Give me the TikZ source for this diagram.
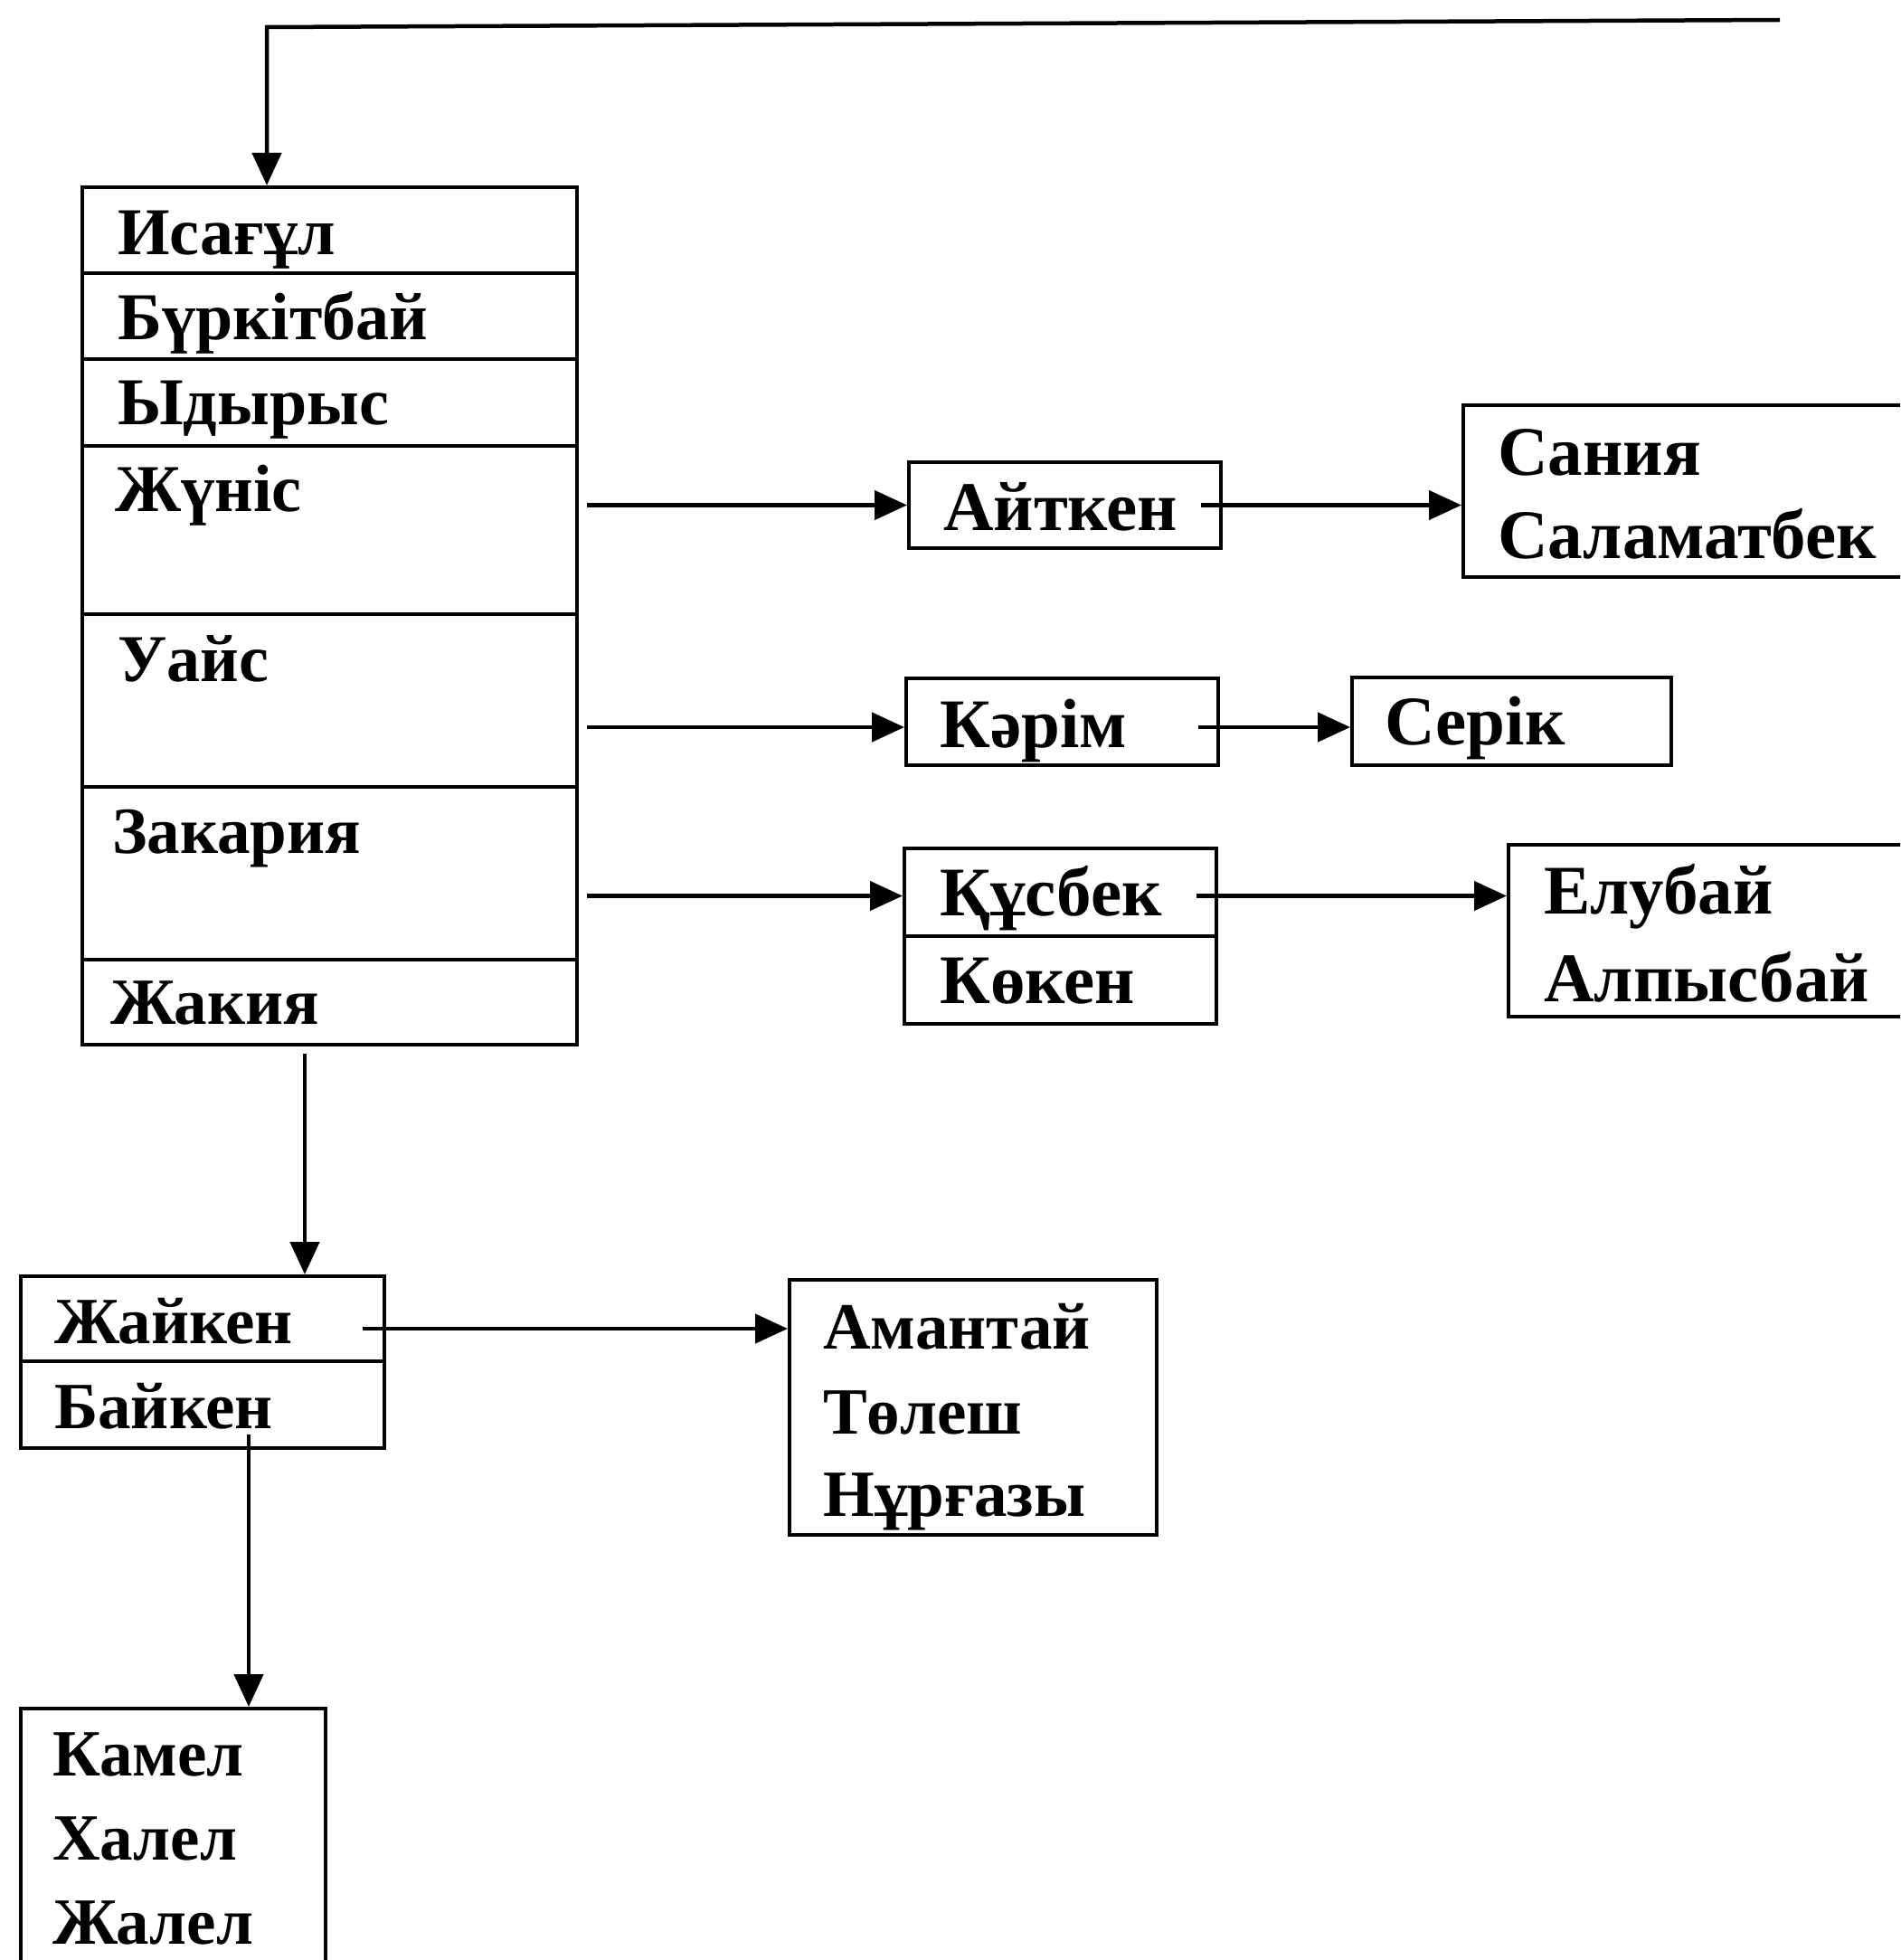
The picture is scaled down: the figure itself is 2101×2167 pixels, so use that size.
\documentclass[tikz,border=0pt]{standalone}
\usepackage{fontspec}
\setmainfont{Liberation Serif}
\usetikzlibrary{arrows.meta}
\newcommand\fA{\fontsize{74}{74}\selectfont\bfseries}
\newcommand\fB{\fontsize{77}{77}\selectfont\bfseries}
\newcommand\fC{\fontsize{73}{73}\selectfont\bfseries}
\tikzset{
  cell/.style={draw, line width=4pt, inner sep=0pt, anchor=north west},
  lblA/.style={inner sep=0pt, anchor=base west, font=\fA},
  lblB/.style={inner sep=0pt, anchor=base west, font=\fB},
  lblC/.style={inner sep=0pt, anchor=base west, font=\fC},
  arr/.style={line width=4.5pt, -{Triangle[length=36pt,width=32pt]}},
}
\begin{document}
\begin{tikzpicture}[x=1pt,y=-1pt]
\useasboundingbox (0,0) rectangle (2101,2167);
\clip (0,0) rectangle (2101,2167);
\fill[white] (0,0) rectangle (2101,2167);
% main box rows
\node[cell, minimum width=547pt, minimum height=95pt]  (r1) at (89,205) {};
\node[cell, minimum width=547pt, minimum height=95pt]  (r2) at (89,300) {};
\node[cell, minimum width=547pt, minimum height=96pt]  (r3) at (89,395) {};
\node[cell, minimum width=547pt, minimum height=186pt] (r4) at (89,491) {};
\node[cell, minimum width=547pt, minimum height=191pt] (r5) at (89,677) {};
\node[cell, minimum width=547pt, minimum height=191pt] (r6) at (89,868) {};
\node[cell, minimum width=547pt, minimum height=94pt]  (r7) at (89,1059) {};
\node[lblA] (t1) at (130,281) {Исағұл};
\node[lblA] (t2) at (130,375) {Бүркітбай};
\node[lblA] (t3) at (130,469) {Ыдырыс};
\node[lblA] (t4) at (127,565) {Жүніс};
\node[lblA] (t5) at (130,753) {Уайс};
\node[lblC] (t6) at (124,943) {Закария};
\node[lblC] (t7) at (122,1132) {Жакия};
% right boxes
\node[cell, minimum width=345pt, minimum height=95pt] (aitken) at (1003,509) {};
\node[cell, minimum width=600pt, minimum height=190pt] (sania) at (1616,446) {};
\node[cell, minimum width=345pt, minimum height=96pt] (karim) at (1000,748) {};
\node[cell, minimum width=353pt, minimum height=97pt] (serik) at (1493,747) {};
\node[cell, minimum width=345pt, minimum height=97pt] (kus) at (998,936) {};
\node[cell, minimum width=345pt, minimum height=97pt] (kok) at (998,1033) {};
\node[cell, minimum width=600pt, minimum height=190pt] (elu) at (1666,932) {};
\node[lblB] (ta) at (1043,586) {Айткен};
\node[lblB] (ts1) at (1656,525) {Сания};
\node[lblB] (ts2) at (1656,617) {Саламатбек};
\node[lblB] (tk) at (1039,826) {Кәрім};
\node[lblB] (tse) at (1531,823) {Серік};
\node[lblB] (tku) at (1039,1012) {Құсбек};
\node[lblB] (tko) at (1039,1109) {Көкен};
\node[lblB] (te1) at (1707,1010) {Елубай};
\node[lblB] (te2) at (1707,1107) {Алпысбай};
% lower boxes
\node[cell, minimum width=402pt, minimum height=94pt] (zhai) at (21,1409) {};
\node[cell, minimum width=402pt, minimum height=96pt] (baik) at (21,1503) {};
\node[cell, minimum width=406pt, minimum height=282pt] (amant) at (871,1413) {};
\node[cell, minimum width=337pt, minimum height=400pt] (kamel) at (21,1887) {};
\node[lblC] (tz) at (60,1485) {Жайкен};
\node[lblC] (tb) at (60,1579) {Байкен};
\node[lblC] (tam1) at (910,1491) {Амантай};
\node[lblC] (tam2) at (910,1585) {Төлеш};
\node[lblC] (tam3) at (910,1676) {Нұрғазы};
\node[lblC] (tka1) at (58,1963) {Камел};
\node[lblC] (tka2) at (58,2056) {Халел};
\node[lblC] (tka3) at (58,2149) {Жалел};
% connectors
\coordinate (topend) at (1968,22);
\coordinate (corner) at (295,30);
\draw[arr] (topend) -- (corner) -- (corner |- r1.north);
\draw[arr] ([xshift=9pt]r4.east |- aitken.west) -- (aitken.west);
\draw[arr] ([xshift=-24pt]aitken.east) -- (aitken.east -| sania.west);
\draw[arr] ([xshift=9pt,yshift=-6pt]r5.east |- karim.west) -- ([yshift=-6pt]karim.west);
\draw[arr] ([xshift=-24pt,yshift=-6pt]karim.east) -- ([yshift=-6pt]karim.east -| serik.west);
\draw[arr] ([xshift=9pt,yshift=-4pt]r6.east |- kus.west) -- ([yshift=-4pt]kus.west);
\draw[arr] ([xshift=-24pt,yshift=-4pt]kus.east) -- ([yshift=-4pt]kus.east -| elu.west);
\coordinate (d1) at (337,1165);
\draw[arr] (d1) -- (d1 |- zhai.north);
\draw[arr] ([xshift=-26pt,yshift=-11pt]zhai.east) -- ([yshift=-11pt]zhai.east -| amant.west);
\coordinate (d2) at (275,1586);
\draw[arr] (d2) -- (d2 |- kamel.north);
\end{tikzpicture}
\end{document}
